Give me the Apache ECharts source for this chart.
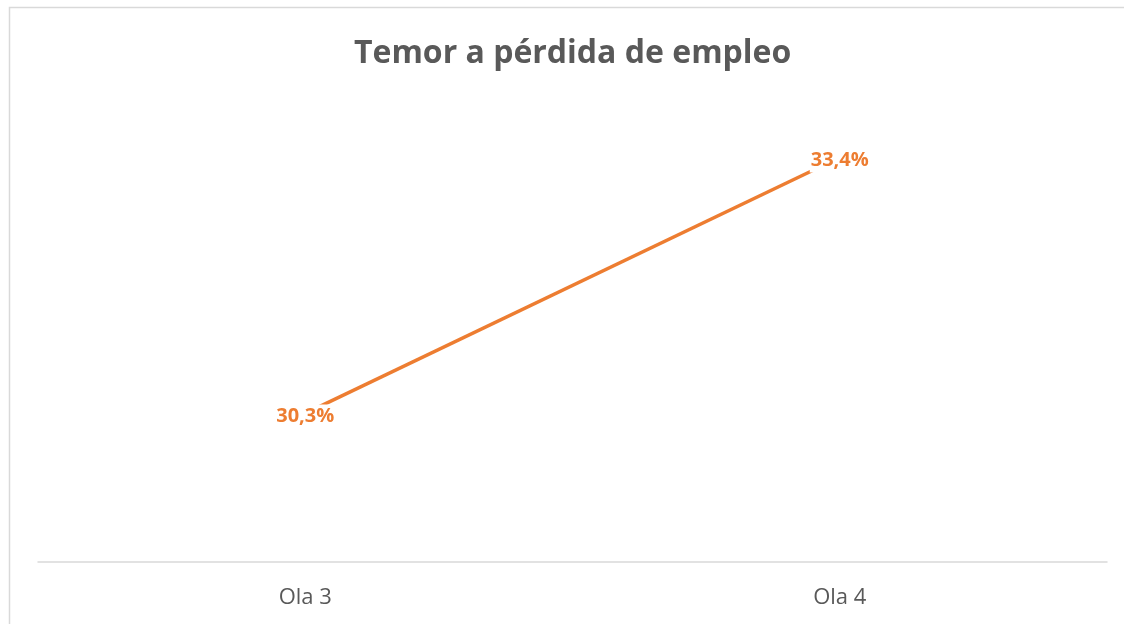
<!DOCTYPE html>
<html>
<head>
<meta charset="utf-8">
<script src="https://cdn.jsdelivr.net/npm/echarts@6/dist/echarts.min.js"></script>
<style>
html,body{margin:0;padding:0;background:#fff;}
#chart{width:1124px;height:624px;}
</style>
</head>
<body>
<div id="chart"></div>
<script>
const categories = ['Ola 3', 'Ola 4'];
const values = [30.3, 33.4];
const seriesName = 'Temor a pérdida de empleo';

const fmt = v => v.toFixed(1).replace('.', ',') + '%';

const chart = echarts.init(document.getElementById('chart'), null, {renderer: 'canvas'});
chart.setOption({
  backgroundColor: '#ffffff',
  animation: false,
  title: {
    text: seriesName,
    left: 349,
    top: 33,
    textStyle: {fontFamily: 'Open Sans', fontWeight: 'bold', fontSize: 32, color: '#595959'}
  },
  graphic: [{
    type: 'rect',
    shape: {x: 9.5, y: 7.5, width: 1300, height: 800},
    style: {fill: 'none', stroke: '#d9d9d9', lineWidth: 1.5},
    silent: true
  }],
  grid: {left: 38, right: 17, top: 108, bottom: 62, containLabel: false},
  xAxis: {
    type: 'category',
    data: categories,
    boundaryGap: true,
    axisLine: {show: true, lineStyle: {color: '#d9d9d9', width: 1.5}},
    axisTick: {show: false},
    axisLabel: {color: '#595959', fontFamily: 'Open Sans', fontSize: 22, margin: 25}
  },
  yAxis: {
    type: 'value',
    min: 28.5,
    max: 34,
    interval: 0.5,
    show: false,
    splitLine: {show: false}
  },
  series: [{
    name: seriesName,
    type: 'line',
    data: values,
    symbol: 'circle',
    symbolSize: 1,
    showSymbol: true,
    lineStyle: {color: '#ED7D31', width: 3.5},
    itemStyle: {color: '#ED7D31'},
    label: {
      show: true,
      position: 'inside',
      offset: [0, 3],
      formatter: p => fmt(p.value),
      color: '#ED7D31',
      fontFamily: 'Open Sans',
      fontWeight: 'bold',
      fontSize: 20,
      backgroundColor: '#ffffff',
      padding: [4, 1, 0, 1]
    }
  }]
});
</script>
</body>
</html>
